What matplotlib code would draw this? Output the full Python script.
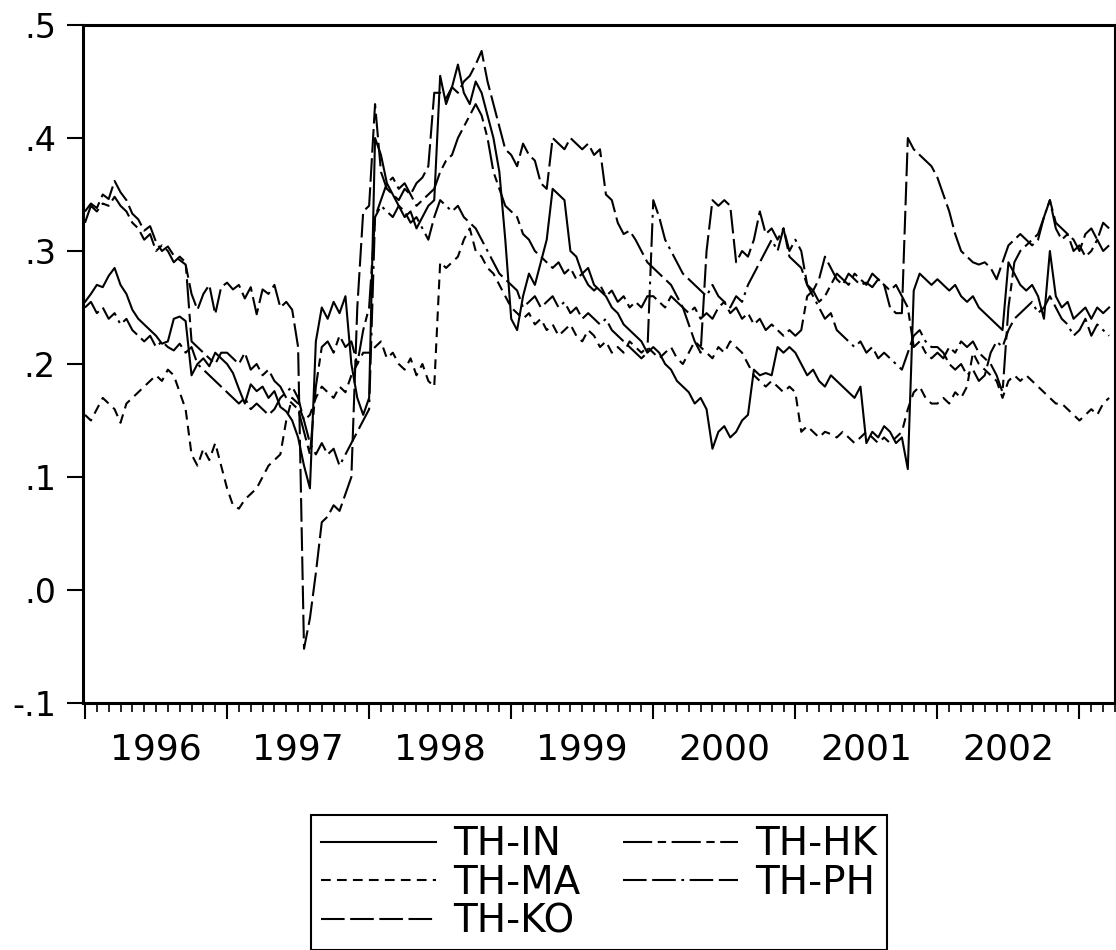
import numpy as np
import matplotlib.pyplot as plt

# half-monthly readings, Jan 1996 .. Mar 2003 (one row per year)
th_in = [0.255, 0.262, 0.270, 0.268, 0.278, 0.285, 0.270, 0.262, 0.248, 0.240, 0.235, 0.230, 0.225, 0.218, 0.220, 0.240, 0.242, 0.238, 0.190, 0.200, 0.205, 0.198, 0.210, 0.205,
         0.200, 0.192, 0.178, 0.165, 0.182, 0.176, 0.180, 0.170, 0.176, 0.162, 0.158, 0.150, 0.135, 0.110, 0.090, 0.220, 0.250, 0.240, 0.255, 0.245, 0.260, 0.200, 0.170, 0.155,
         0.170, 0.400, 0.385, 0.360, 0.350, 0.340, 0.330, 0.335, 0.320, 0.330, 0.340, 0.345, 0.455, 0.430, 0.445, 0.465, 0.440, 0.430, 0.450, 0.440, 0.420, 0.400, 0.370, 0.310,
         0.240, 0.230, 0.260, 0.280, 0.270, 0.290, 0.310, 0.355, 0.350, 0.345, 0.300, 0.295, 0.280, 0.285, 0.270, 0.265, 0.260, 0.250, 0.245, 0.235, 0.230, 0.225, 0.220, 0.210,
         0.215, 0.210, 0.200, 0.195, 0.185, 0.180, 0.175, 0.165, 0.170, 0.160, 0.125, 0.140, 0.145, 0.135, 0.140, 0.150, 0.155, 0.195, 0.190, 0.192, 0.190, 0.215, 0.210, 0.215,
         0.210, 0.200, 0.190, 0.195, 0.185, 0.180, 0.190, 0.185, 0.180, 0.175, 0.170, 0.180, 0.130, 0.140, 0.135, 0.145, 0.140, 0.130, 0.135, 0.107, 0.265, 0.280, 0.275, 0.270,
         0.275, 0.270, 0.265, 0.270, 0.260, 0.255, 0.260, 0.250, 0.245, 0.240, 0.235, 0.230, 0.290, 0.280, 0.270, 0.265, 0.270, 0.260, 0.240, 0.300, 0.260, 0.250, 0.255, 0.240,
         0.245, 0.250, 0.240, 0.250, 0.245, 0.250]

th_ma = [0.155, 0.150, 0.160, 0.170, 0.165, 0.160, 0.148, 0.165, 0.170, 0.175, 0.180, 0.185, 0.190, 0.185, 0.195, 0.190, 0.175, 0.160, 0.120, 0.110, 0.125, 0.115, 0.130, 0.110,
         0.090, 0.075, 0.072, 0.080, 0.085, 0.090, 0.100, 0.110, 0.115, 0.120, 0.150, 0.170, 0.165, 0.150, 0.155, 0.170, 0.180, 0.175, 0.170, 0.180, 0.175, 0.190, 0.200, 0.210,
         0.210, 0.215, 0.220, 0.205, 0.210, 0.200, 0.195, 0.205, 0.190, 0.200, 0.185, 0.180, 0.290, 0.285, 0.290, 0.295, 0.310, 0.320, 0.300, 0.295, 0.285, 0.280, 0.270, 0.260,
         0.250, 0.245, 0.240, 0.245, 0.235, 0.240, 0.230, 0.235, 0.225, 0.230, 0.235, 0.225, 0.220, 0.230, 0.225, 0.215, 0.220, 0.210, 0.215, 0.210, 0.220, 0.215, 0.210, 0.215,
         0.210, 0.205, 0.210, 0.215, 0.205, 0.200, 0.210, 0.220, 0.215, 0.210, 0.205, 0.215, 0.210, 0.220, 0.215, 0.210, 0.200, 0.190, 0.185, 0.180, 0.185, 0.180, 0.175, 0.180,
         0.175, 0.140, 0.145, 0.140, 0.135, 0.140, 0.138, 0.135, 0.140, 0.135, 0.130, 0.135, 0.140, 0.135, 0.130, 0.135, 0.130, 0.135, 0.140, 0.160, 0.175, 0.180, 0.170, 0.165,
         0.165, 0.170, 0.165, 0.175, 0.170, 0.180, 0.210, 0.200, 0.195, 0.190, 0.185, 0.170, 0.185, 0.190, 0.185, 0.190, 0.185, 0.180, 0.175, 0.170, 0.165, 0.165, 0.160, 0.155,
         0.150, 0.155, 0.160, 0.155, 0.165, 0.170]

th_ko = [0.335, 0.342, 0.338, 0.350, 0.346, 0.362, 0.352, 0.345, 0.333, 0.328, 0.318, 0.322, 0.308, 0.300, 0.304, 0.296, 0.292, 0.288, 0.262, 0.248, 0.262, 0.270, 0.244, 0.268,
         0.272, 0.266, 0.270, 0.258, 0.268, 0.244, 0.266, 0.262, 0.270, 0.250, 0.255, 0.248, 0.215, -0.052, -0.025, 0.015, 0.060, 0.065, 0.075, 0.070, 0.085, 0.100, 0.250, 0.335,
         0.340, 0.430, 0.370, 0.355, 0.350, 0.345, 0.355, 0.350, 0.360, 0.365, 0.375, 0.440, 0.440, 0.435, 0.445, 0.440, 0.450, 0.455, 0.465, 0.477, 0.450, 0.430, 0.410, 0.390,
         0.385, 0.375, 0.395, 0.385, 0.380, 0.360, 0.355, 0.400, 0.395, 0.390, 0.400, 0.395, 0.390, 0.395, 0.385, 0.390, 0.350, 0.345, 0.325, 0.315, 0.318, 0.310, 0.300, 0.290,
         0.285, 0.280, 0.275, 0.270, 0.260, 0.250, 0.235, 0.220, 0.210, 0.300, 0.345, 0.340, 0.345, 0.340, 0.290, 0.300, 0.295, 0.310, 0.335, 0.315, 0.320, 0.310, 0.320, 0.295,
         0.290, 0.285, 0.270, 0.265, 0.275, 0.295, 0.285, 0.275, 0.270, 0.280, 0.275, 0.270, 0.272, 0.268, 0.275, 0.270, 0.250, 0.245, 0.245, 0.400, 0.390, 0.385, 0.380, 0.375,
         0.365, 0.350, 0.335, 0.315, 0.300, 0.295, 0.290, 0.288, 0.290, 0.285, 0.275, 0.290, 0.305, 0.310, 0.315, 0.310, 0.305, 0.310, 0.330, 0.345, 0.325, 0.320, 0.315, 0.310,
         0.300, 0.315, 0.320, 0.310, 0.325, 0.320]

th_hk = [0.325, 0.340, 0.335, 0.342, 0.340, 0.348, 0.340, 0.335, 0.325, 0.320, 0.310, 0.315, 0.300, 0.305, 0.300, 0.290, 0.295, 0.290, 0.220, 0.215, 0.210, 0.205, 0.200, 0.210,
         0.210, 0.205, 0.200, 0.210, 0.195, 0.200, 0.190, 0.195, 0.185, 0.180, 0.170, 0.165, 0.160, 0.140, 0.120, 0.180, 0.215, 0.220, 0.210, 0.225, 0.215, 0.220, 0.200, 0.230,
         0.250, 0.330, 0.345, 0.360, 0.365, 0.355, 0.360, 0.350, 0.340, 0.345, 0.350, 0.355, 0.370, 0.380, 0.385, 0.400, 0.410, 0.420, 0.430, 0.420, 0.400, 0.370, 0.355, 0.340,
         0.335, 0.330, 0.315, 0.310, 0.300, 0.295, 0.290, 0.285, 0.290, 0.280, 0.285, 0.275, 0.280, 0.270, 0.265, 0.270, 0.260, 0.265, 0.255, 0.260, 0.250, 0.255, 0.250, 0.260,
         0.260, 0.255, 0.250, 0.260, 0.255, 0.250, 0.245, 0.250, 0.240, 0.245, 0.240, 0.250, 0.255, 0.245, 0.250, 0.240, 0.245, 0.235, 0.240, 0.230, 0.235, 0.230, 0.225, 0.230,
         0.225, 0.230, 0.260, 0.265, 0.255, 0.260, 0.270, 0.280, 0.275, 0.270, 0.280, 0.275, 0.270, 0.280, 0.275, 0.270, 0.265, 0.270, 0.260, 0.250, 0.215, 0.220, 0.210, 0.205,
         0.210, 0.205, 0.215, 0.210, 0.220, 0.215, 0.220, 0.210, 0.205, 0.200, 0.190, 0.175, 0.250, 0.290, 0.300, 0.305, 0.310, 0.315, 0.330, 0.345, 0.320, 0.310, 0.315, 0.300,
         0.305, 0.295, 0.300, 0.310, 0.300, 0.305]

th_ph = [0.250, 0.255, 0.245, 0.250, 0.240, 0.245, 0.235, 0.240, 0.230, 0.225, 0.220, 0.225, 0.215, 0.220, 0.215, 0.212, 0.218, 0.210, 0.215, 0.200, 0.195, 0.190, 0.185, 0.180,
         0.175, 0.170, 0.165, 0.170, 0.160, 0.165, 0.160, 0.155, 0.160, 0.170, 0.175, 0.180, 0.170, 0.150, 0.130, 0.120, 0.130, 0.120, 0.125, 0.110, 0.120, 0.130, 0.140, 0.150,
         0.160, 0.330, 0.340, 0.335, 0.330, 0.340, 0.335, 0.325, 0.330, 0.320, 0.310, 0.330, 0.345, 0.340, 0.335, 0.340, 0.330, 0.325, 0.320, 0.310, 0.300, 0.290, 0.280, 0.275,
         0.270, 0.265, 0.250, 0.255, 0.260, 0.250, 0.255, 0.260, 0.250, 0.255, 0.245, 0.250, 0.240, 0.245, 0.240, 0.235, 0.240, 0.230, 0.225, 0.220, 0.215, 0.210, 0.205, 0.210,
         0.345, 0.330, 0.310, 0.300, 0.290, 0.280, 0.275, 0.270, 0.265, 0.260, 0.270, 0.260, 0.255, 0.250, 0.260, 0.255, 0.270, 0.280, 0.290, 0.300, 0.310, 0.300, 0.320, 0.300,
         0.310, 0.300, 0.270, 0.260, 0.250, 0.240, 0.245, 0.230, 0.225, 0.220, 0.215, 0.220, 0.210, 0.215, 0.205, 0.210, 0.205, 0.200, 0.195, 0.210, 0.225, 0.230, 0.220, 0.215,
         0.215, 0.210, 0.200, 0.195, 0.200, 0.190, 0.195, 0.185, 0.190, 0.210, 0.220, 0.215, 0.230, 0.240, 0.245, 0.250, 0.255, 0.245, 0.250, 0.260, 0.250, 0.240, 0.235, 0.225,
         0.230, 0.240, 0.225, 0.235, 0.230, 0.225]

years = [1996, 1997, 1998, 1999, 2000, 2001, 2002]
y_ticks = [-0.1, 0.0, 0.1, 0.2, 0.3, 0.4, 0.5]
y_labels = ["-.1", ".0", ".1", ".2", ".3", ".4", ".5"]

plt.rcParams['font.family'] = ['DejaVu Sans']
plt.rcParams['lines.scale_dashes'] = False

dates = 1996 + np.arange(len(th_in)) / 24.0

fig = plt.figure(figsize=(11.16, 9.5), dpi=100)
ax = fig.add_axes([83 / 1116, 247 / 950, 1032 / 1116, 678 / 950])

series = [("TH-IN", th_in, "-"),
          ("TH-MA", th_ma, (0, (7, 4.5))),
          ("TH-KO", th_ko, (0, (17, 4))),
          ("TH-HK", th_hk, (0, (21, 4, 6, 4))),
          ("TH-PH", th_ph, (0, (17, 4, 17, 4, 2, 4)))]
for name, vals, ls in series:
    ax.plot(dates, vals, color="black", lw=1.5, ls=ls, label=name)

ax.set_xlim(1995.986, 2003.218)
ax.set_ylim(-0.1, 0.5)

ax.set_yticks(y_ticks)
ax.set_yticklabels(y_labels)
ax.tick_params(axis="y", direction="out", length=11.5, width=1.5, pad=8, labelsize=24)

ax.set_xticks(np.arange(1996, 2004))
ax.set_xticklabels([])
ax.set_xticks(1996 + np.arange(1, 88) / 12.0, minor=True)
ax.tick_params(axis="x", which="major", direction="out", length=11.5, width=1.5)
ax.tick_params(axis="x", which="minor", direction="out", length=6.5, width=1.2)

# year labels sit in the middle of each year
for yr in years:
    ax.text(yr + 0.5, -0.043, str(yr), transform=ax.get_xaxis_transform(),
            ha="center", va="top", fontsize=26)

for side in ["left", "bottom", "top"]:
    ax.spines[side].set_linewidth(2.2)
ax.spines["right"].set_linewidth(1.5)

leg = fig.legend(loc="upper center", bbox_to_anchor=(599 / 1116, 1 - 796 / 950),
                 ncol=2, fontsize=28, handlelength=2.95, handletextpad=0.44,
                 columnspacing=1.1, labelspacing=0.02, borderpad=0.25,
                 fancybox=False, edgecolor="black", framealpha=1)
leg.get_frame().set_linewidth(1.5)

fig.savefig("out.png", dpi=100)
